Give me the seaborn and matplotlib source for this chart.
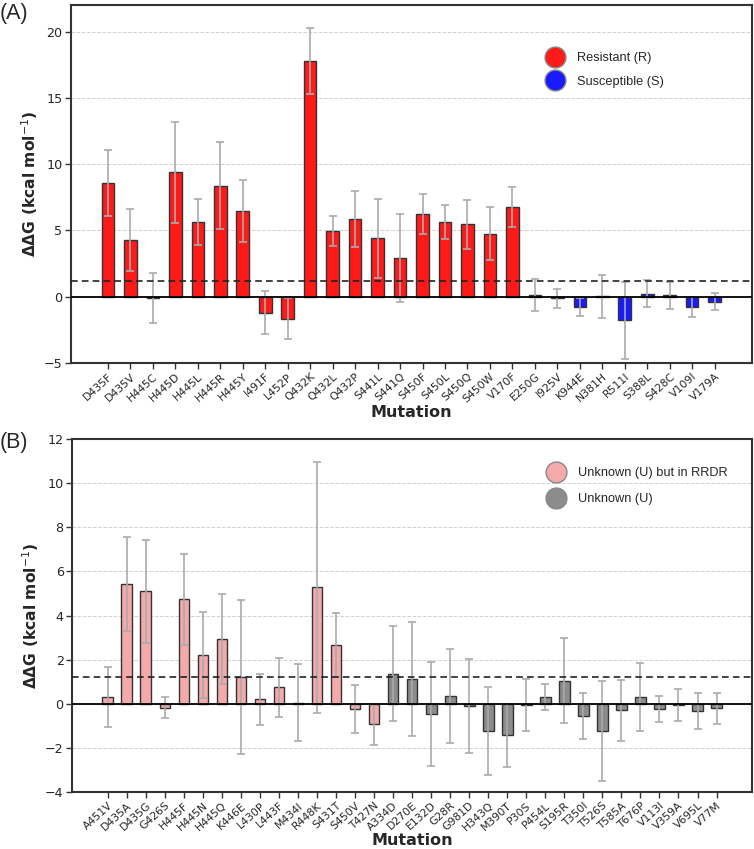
import numpy as np
import pandas as pd
import matplotlib
matplotlib.use("Agg")
import matplotlib.pyplot as plt
import seaborn as sns
from matplotlib.lines import Line2D

# ---------------- data ----------------
a_mut = ["D435F", "D435V", "H445C", "H445D", "H445L", "H445R", "H445Y", "I491F", "L452P",
         "Q432K", "Q432L", "Q432P", "S441L", "S441Q", "S450F", "S450L", "S450Q", "S450W",
         "V170F", "E250G", "I925V", "K944E", "N381H", "R511I", "S388L", "S428C", "V109I", "V179A"]
a_val = [8.59, 4.27, -0.08, 9.39, 5.63, 8.38, 6.46, -1.19, -1.67,
         17.8, 4.95, 5.86, 4.42, 2.93, 6.24, 5.63, 5.48, 4.77,
         6.77, 0.15, -0.13, -0.76, 0.02, -1.79, 0.23, 0.10, -0.78, -0.38]
a_err = [2.50, 2.36, 1.88, 3.79, 1.72, 3.26, 2.31, 1.63, 1.55,
         2.47, 1.11, 2.12, 2.98, 3.30, 1.54, 1.29, 1.85, 2.00,
         1.52, 1.21, 0.73, 0.70, 1.59, 2.87, 1.00, 1.01, 0.77, 0.64]
a_cls = ["Resistant (R)"] * 19 + ["Susceptible (S)"] * 9

b_mut = ["A451V", "D435A", "D435G", "G426S", "H445F", "H445N", "H445Q", "K446E", "L430P",
         "L443F", "M434I", "R448K", "S431T", "S450V", "T427N", "A334D", "D270E", "E132D",
         "G28R", "G981D", "H343Q", "M390T", "P30S", "P454L", "S195R", "T350I", "T526S",
         "T585A", "T676P", "V113I", "V359A", "V695L", "V77M"]
b_val = [0.30, 5.42, 5.09, -0.17, 4.73, 2.21, 2.94, 1.21, 0.20,
         0.74, 0.05, 5.27, 2.67, -0.23, -0.93, 1.36, 1.12, -0.45,
         0.35, -0.10, -1.24, -1.42, -0.06, 0.32, 1.05, -0.56, -1.23,
         -0.30, 0.32, -0.23, -0.06, -0.32, -0.21]
b_err = [1.36, 2.14, 2.34, 0.49, 2.05, 1.95, 2.05, 3.50, 1.16,
         1.34, 1.75, 5.67, 1.46, 1.10, 0.93, 2.16, 2.60, 2.36,
         2.14, 2.15, 1.99, 1.43, 1.18, 0.58, 1.91, 1.04, 2.26,
         1.37, 1.55, 0.58, 0.71, 0.83, 0.71]
b_cls = ["Unknown (U) but in RRDR"] * 15 + ["Unknown (U)"] * 18

threshold = 1.2

pal_a = {"Resistant (R)": "#ff1a1a", "Susceptible (S)": "#1a1aff"}
pal_b = {"Unknown (U) but in RRDR": "#f4aaaa", "Unknown (U)": "#8c8c8c"}

# ---------------- figure ----------------
sns.set_theme(style="white")
plt.rcParams["font.family"] = ["DejaVu Sans"]

fig = plt.figure(figsize=(7.54, 8.49), dpi=100)
axA = fig.add_axes([0.094, 0.5724, 0.903, 0.4216])
axB = fig.add_axes([0.0955, 0.067, 0.9015, 0.416])


def panel(ax, muts, vals, errs, cls, pal, ylim, yticks, xlim, legend_anchor, lspace):
    df = pd.DataFrame({"Mutation": muts, "ddG": vals, "cls": cls})
    sns.barplot(data=df, x="Mutation", y="ddG", hue="cls", palette=pal, dodge=False,
                width=0.56, errorbar=None, edgecolor="#333333", linewidth=1.0,
                saturation=1, legend=False, ax=ax, zorder=2)
    pos = np.arange(len(muts))
    ax.errorbar(pos, vals, yerr=errs, fmt="none", ecolor="#aaaaaa", elinewidth=1.2,
                capsize=3, capthick=1.2, zorder=3)
    ax.axhline(0, color="black", lw=1.3, zorder=4)
    ax.axhline(threshold, color="#222222", lw=1.2, ls=(0, (4, 2.5)), zorder=4)
    ax.set_ylim(*ylim)
    ax.set_yticks(yticks)
    ax.set_xlim(*xlim)
    ax.yaxis.grid(True, ls="--", color="#d0d0d0", lw=0.7)
    ax.xaxis.grid(False)
    ax.set_axisbelow(True)
    for s in ax.spines.values():
        s.set_color("#333333")
        s.set_linewidth(1.5)
    ax.tick_params(axis="both", which="both", direction="out", length=4, width=1,
                   color="#333333", bottom=True, left=True)
    ax.tick_params(axis="y", labelsize=9.2, pad=2)
    ax.set_xticks(pos)
    ax.set_xticklabels(muts, rotation=42, ha="right", rotation_mode="anchor", fontsize=7.8)
    ax.tick_params(axis="x", pad=2)
    ax.set_xlabel("Mutation", fontsize=11.5, fontweight="bold", labelpad=0)
    ax.set_ylabel(r"$\mathbf{\Delta\Delta G}$ (kcal mol$^{-1}$)", fontsize=11.2,
                  fontweight="bold", labelpad=3)
    handles = [Line2D([0], [0], marker="o", ls="none", markersize=15,
                      markerfacecolor=c, markeredgecolor="#888888", markeredgewidth=1.0,
                      label=k) for k, c in pal.items()]
    ax.legend(handles=handles, loc="upper left", bbox_to_anchor=legend_anchor,
              frameon=False, handletextpad=0.7, labelspacing=lspace,
              prop={"family": "Liberation Sans", "size": 9.2})


panel(axA, a_mut, a_val, a_err, a_cls, pal_a, (-5, 22), [-5, 0, 5, 10, 15, 20],
      (-1.65, len(a_mut) - 1 + 1.65), (0.676, 0.90), 0.9)
panel(axB, b_mut, b_val, b_err, b_cls, pal_b, (-4, 12), [-4, -2, 0, 2, 4, 6, 8, 10, 12],
      (-1.88, len(b_mut) - 1 + 1.85), (0.676, 0.952), 1.1)

fig.text(0.0, 0.997, "(A)", fontsize=15.5, ha="left", va="top",
         family="Liberation Sans")
fig.text(0.0, 0.491, "(B)", fontsize=15.5, ha="left", va="top",
         family="Liberation Sans")

fig.savefig("out.png", dpi=100)
